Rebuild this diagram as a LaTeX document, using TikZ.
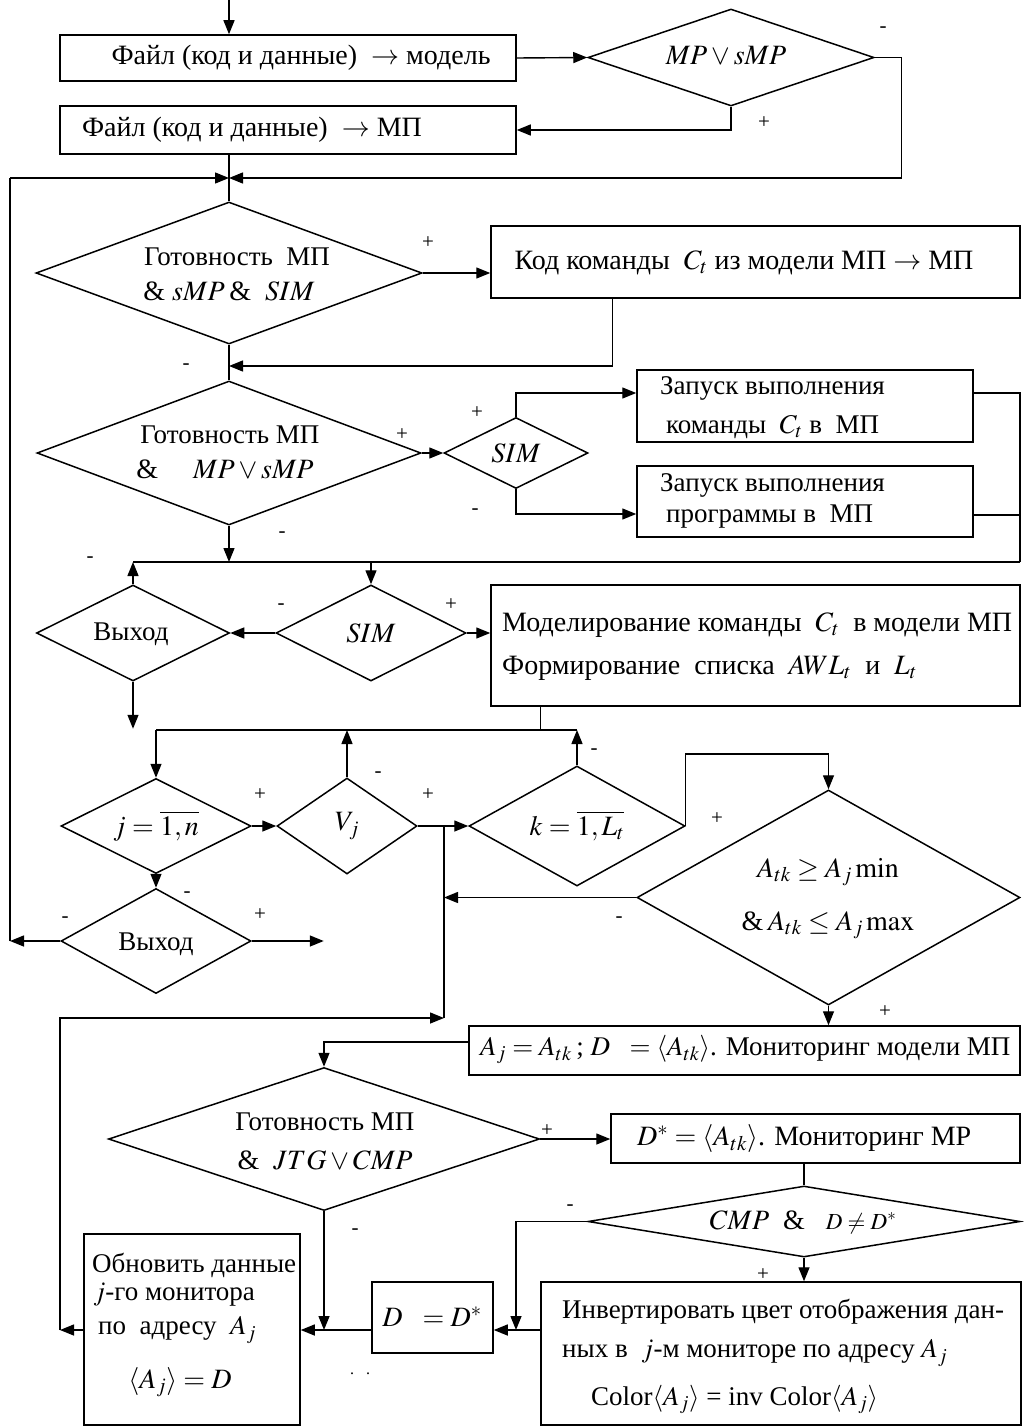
\documentclass[tikz,border=0pt]{standalone}
\usepackage{mathptmx}
\usepackage[no-math]{fontspec}
\setmainfont{Liberation Serif}
\usetikzlibrary{shapes.geometric,arrows.meta}
\tikzset{
 bx/.style={draw, line width=1.5pt, rectangle, inner sep=0pt},
 dia/.style={draw, line width=1.5pt, diamond, inner sep=0pt},
 tx/.style={inner sep=0pt},
 big/.style={font=\fontsize{28}{33}\selectfont},
 pm/.style={inner sep=0pt, font=\fontsize{21}{24}\selectfont},
 ln/.style={line width=1.4pt},
 ar/.style={line width=1.4pt, -{Triangle[length=14pt,width=11pt]}},
}
\begin{document}
\begin{tikzpicture}[x=1pt,y=-1pt, font=\fontsize{27}{32}\selectfont]
\useasboundingbox (0,0) rectangle (1024,1426);

% shapes
\node[bx, minimum width=456pt, minimum height=46pt] (b1) at (288,58) {};
\node[dia, minimum width=286pt, minimum height=97pt] (d1) at (731,57.5) {};
\node[bx, minimum width=456pt, minimum height=48pt] (b2) at (288,130) {};
\node[dia, minimum width=386pt, minimum height=142pt] (d2) at (229,273) {};
\node[bx, minimum width=529pt, minimum height=72pt] (b3) at (755.5,262) {};
\node[dia, minimum width=384pt, minimum height=144pt] (d3) at (229,453) {};
\node[dia, minimum width=144pt, minimum height=71pt] (s1) at (516,453) {};
\node[bx, minimum width=336pt, minimum height=72pt] (b4) at (805,406) {};
\node[bx, minimum width=336pt, minimum height=71pt] (b5) at (805,501.5) {};
\node[dia, minimum width=193pt, minimum height=96pt] (e1) at (133,633) {};
\node[dia, minimum width=190pt, minimum height=96pt] (s2) at (371,633) {};
\node[bx, minimum width=529pt, minimum height=121pt] (b6) at (755.5,645.5) {};
\node[dia, minimum width=190pt, minimum height=95pt] (dj) at (156,826) {};
\node[dia, minimum width=140pt, minimum height=96pt] (dv) at (347,826) {};
\node[dia, minimum width=216pt, minimum height=120pt] (dk) at (577,826) {};
\node[dia, minimum width=383pt, minimum height=215pt] (dA) at (828.5,897.5) {};
\node[dia, minimum width=190pt, minimum height=105pt] (e2) at (156,941) {};
\node[bx, minimum width=551pt, minimum height=49pt] (b7) at (744.5,1050.5) {};
\node[dia, minimum width=431pt, minimum height=143pt] (dG) at (324,1139) {};
\node[bx, minimum width=409pt, minimum height=49pt] (b8) at (815.5,1138.5) {};
\node[dia, minimum width=432pt, minimum height=71pt] (dC) at (804,1221.5) {};
\node[bx, minimum width=480pt, minimum height=143pt] (bI) at (781,1353.5) {};
\node[bx, minimum width=121pt, minimum height=71pt] (bD) at (432.5,1317.5) {};
\node[bx, minimum width=216pt, minimum height=191pt] (bO) at (192,1329.5) {};

% helper coordinates
\coordinate (st) at (229,0);
\coordinate (j1) at (229,178);
\coordinate (L1) at (10,178);
\coordinate (j2) at (229,366);
\coordinate (R1) at (1020,562);
\coordinate (H1) at (156,730);
\coordinate (H2) at (577,730);
\coordinate (V1) at (444,826);
\coordinate (V2) at (444,1018);
\coordinate (V4) at (60,1018);
\coordinate (K) at (516,1330);

% connectors
\draw[ar] (st) -- (st |- b1.north);
\draw[ar] (b1.east) -- (d1.west);
\draw[ar] (d1.south) |- (b2.east);
\draw[ar] (d1.east) -- ++(27,0) |- (j1);
\draw[ar] (L1) -- (j1);
\draw[ln] (j1 |- b2.south) -- (d2.north);
\draw[ar] (d2.east) -- (d2.east -| b3.west);
\draw[ar] ([xshift=122pt]b3.south west) |- (j2);
\draw[ln] (d2.south) -- (d3.north);
\draw[ar] (d3.east) -- (s1.west);
\draw[ar] (s1.north) |- ([yshift=13pt]b4.west);
\draw[ar] (s1.south) |- ([yshift=-12.5pt]b5.west);
\draw[ln] ([yshift=13pt]b4.east) -| (R1);
\draw[ln] ([yshift=-13.5pt]b5.east) -- ([yshift=-13.5pt]b5.east -| R1);
\draw[ln] (R1) -- (e1.north |- R1);
\draw[ar] (d3.south) -- (d3.south |- R1);
\draw[ar] (e1.north) -- (e1.north |- R1);
\draw[ar] (s2.north |- R1) -- (s2.north);
\draw[ar] (s2.west) -- (e1.east);
\draw[ar] (s2.east) -- (s2.east -| b6.west);
\draw[ar] (e1.south) -- ++(0,47);
\draw[ln] ([xshift=50pt]b6.south west) -- ([xshift=50pt]b6.south west |- H1);
\draw[ln] (H1) -- (H2);
\draw[ar] (H1) -- (dj.north);
\draw[ar] (dv.north) -- (dv.north |- H1);
\draw[ar] (dk.north) -- (H2);
\draw[ar] (dj.east) -- (dv.west);
\draw[ar] (dv.east) -- (dk.west);
\draw[ln] (V1) -- (V2);
\draw[ar] (dk.east) -- ++(0,-72) -| (dA.north);
\draw[ar] (dA.west) -- (V1 |- dA.west);
\draw[ar] (dA.south) -- (dA.south |- b7.north);
\draw[ar] (dj.south) -- (e2.north);
\draw[ar] (e2.east) -- ++(72,0);
\draw[ar] (e2.west) -- (e2.west -| L1);
\draw[ln] (e2.west -| L1) -- (L1);
\draw[ar] ([yshift=8.5pt]b7.west) -| (dG.north);
\draw[ar] (dG.east) -- (dG.east -| b8.west);
\draw[ln] (dC.north |- b8.south) -- (dC.north);
\draw[ar] (dC.south) -- (dC.south |- bI.north);
\draw[ar] (dC.west) -| (K);
\draw[ar] (bI.west |- K) -- (bD.east |- K);
\draw[ar] (bD.west |- K) -- (bO.east |- K);
\draw[ar] (dG.south) -- (dG.south |- K);
\draw[ar] (bO.west |- K) -- (V4 |- K);
\draw[ar] (V4 |- K) -- (V4) -- (V2);

% texts
\node[tx, big] (t1) at (301,58) {Файл (код и данные) \ $\rightarrow$ модель};
\node[tx, big] (t2) at (252,130) {Файл (код и данные) \ $\rightarrow$ МП};
\node[tx, big] (t3) at (726,56) {$MP\vee sMP$};
\node[tx] (t4a) at (237,257) {Готовность \ МП};
\node[tx, big] (t4b) at (229,291) {\& $sMP$\,\& \ $SIM$};
\node[tx, big] (t5) at (744,263) {Код команды \ $C_t$ из модели МП $\rightarrow$ МП};
\node[tx] (t6a) at (230,435) {Готовность МП};
\node[tx, big] (t6b) at (225,469) {\& \quad $MP\vee sMP$};
\node[tx, big] (t7) at (516,453) {$SIM$};
\node[tx, anchor=west] (t8a) at (660,388) {Запуск выполнения};
\node[tx, anchor=west] (t8b) at (666,427) {команды \ $C_t$ в \ МП};
\node[tx, anchor=west] (t9a) at (660,485) {Запуск выполнения};
\node[tx, anchor=west] (t9b) at (666,517) {программы в \ МП};
\node[tx] (t10) at (131,634) {Выход};
\node[tx, big] (t11) at (371,633) {$SIM$};
\node[tx, big, anchor=west] (t12a) at (502,625) {Моделирование команды \ $C_t$ \ в модели МП};
\node[tx, big, anchor=west] (t12b) at (502,668) {Формирование \ списка \ $AWL_t$ \ и \ $L_t$};
\node[tx, big] (t13) at (156,826) {$j=\overline{1,n}$};
\node[tx, big] (t14) at (347,826) {$V_j$};
\node[tx, big] (t15) at (577,826) {$k=\overline{1,L_t}$};
\node[tx, big] (t16a) at (828,872) {$A_{tk}\geq A_j\,\mathrm{min}$};
\node[tx, big] (t16b) at (828,925) {\&\,$A_{tk}\leq A_j\,\mathrm{max}$};
\node[tx] (t17) at (156,944) {Выход};
\node[tx, anchor=west] (t18) at (480,1050) {$A_j=A_{tk}$\,; $D\ \ =\langle A_{tk}\rangle$. Мониторинг модели МП};
\node[tx] (t19a) at (325,1122) {Готовность МП};
\node[tx, big] (t19b) at (325,1160) {\& \ $JTG\vee CMP$};
\node[tx, big, anchor=west] (t20) at (637,1139) {$D^*=\langle A_{tk}\rangle$. Мониторинг MP};
\node[tx, big] (t21) at (803,1222) {$CMP$ \ \& \ \ {\fontsize{23}{26}\selectfont$D\neq D^*$}};
\node[tx, anchor=west] (t22a) at (562,1312) {Инвертировать цвет отображения дан-};
\node[tx, anchor=west] (t22b) at (562,1353) {ных в \ $j$-м мониторе по адресу $A_j$};
\node[tx, anchor=west] (t22c) at (591,1400) {Color$\langle A_j\rangle$ = inv Color$\langle A_j\rangle$};
\node[tx, big] (t23) at (432,1317) {$D\ \ =D^*$};
\node[tx, anchor=west] (t24a) at (92,1265) {Обновить данные};
\node[tx, anchor=west] (t24b) at (93,1295) {$j$-го монитора};
\node[tx, anchor=west] (t24c) at (98,1330) {по \ адресу \ $A_j$};
\node[tx, big] (t24d) at (180,1382) {$\langle A_j\rangle=D$};
\node[tx, font=\fontsize{16}{18}\selectfont] (dots) at (360,1374) {.\hspace{12pt}.};

% branch labels
\node[pm] (p1) at (883,30) {-};
\node[pm] (p2) at (764,123) {+};
\node[pm] (p3) at (428,243) {+};
\node[pm] (p4) at (186,367) {-};
\node[pm] (p5) at (402,435) {+};
\node[pm] (p6) at (477,413) {+};
\node[pm] (p7) at (475,512) {-};
\node[pm] (p8) at (282,535) {-};
\node[pm] (p9) at (90,560) {-};
\node[pm] (p10) at (281,607) {-};
\node[pm] (p11) at (451,605) {+};
\node[pm] (p12) at (594,752) {-};
\node[pm] (p13) at (260,795) {+};
\node[pm] (p14) at (378,775) {-};
\node[pm] (p15) at (428,795) {+};
\node[pm] (p16) at (717,819) {+};
\node[pm] (p17) at (187,895) {-};
\node[pm] (p18) at (65,920) {-};
\node[pm] (p19) at (260,915) {+};
\node[pm] (p20) at (619,920) {-};
\node[pm] (p21) at (885,1012) {+};
\node[pm] (p22) at (547,1131) {+};
\node[pm] (p23) at (570,1208) {-};
\node[pm] (p24) at (763,1275) {+};
\node[pm] (p25) at (355,1232) {-};
\end{tikzpicture}
\end{document}
